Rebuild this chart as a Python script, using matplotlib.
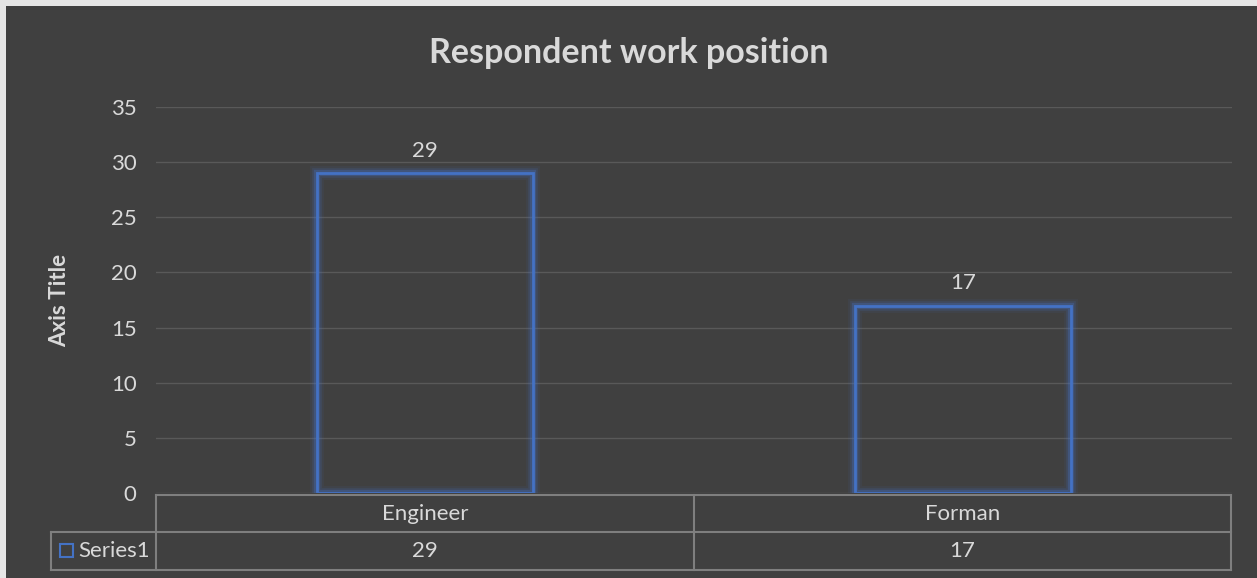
import matplotlib
matplotlib.use('Agg')
import matplotlib.pyplot as plt
from matplotlib.patches import Rectangle
from matplotlib.lines import Line2D

# data
categories = ['Engineer', 'Forman']
values = [29, 17]
series_name = 'Series1'
title = 'Respondent work position'
y_ticks = [0, 5, 10, 15, 20, 25, 30, 35]

W, H = 1257, 578
BG = '#404040'
TXT = '#d9d9d9'
GRID = '#595959'
BLUE = '#4472c4'
FS = 16

plt.rcParams['font.family'] = ['Lato', 'DejaVu Sans']

fig = plt.figure(figsize=(W / 100, H / 100), dpi=100)
fig.patch.set_facecolor('#e6e6e6')


def fx(px):
    return px / W


def fy(py):
    return 1 - py / H


# dark chart area
fig.patches.append(Rectangle((fx(6), 0), 1 - fx(6), fy(6), transform=fig.transFigure,
                             facecolor=BG, edgecolor='none', zorder=-5))

# plot area
left, right, top, bottom = 156, 1232, 107, 493
ax = fig.add_axes([fx(left), fy(bottom), fx(right) - fx(left), fy(top) - fy(bottom)])
ax.set_facecolor('none')
ax.set_ylim(0, 35)
ax.set_xlim(-0.5, len(categories) - 0.5)
ax.set_yticks(y_ticks)
ax.tick_params(axis='y', length=0, colors=TXT, labelsize=FS, pad=14)
ax.set_xticks([])
for s in ax.spines.values():
    s.set_visible(False)
ax.grid(axis='y', color=GRID, linewidth=1)
ax.set_axisbelow(True)

x = range(len(categories))
# glow around the bars
for lw, a in [(10, 0.08), (7, 0.15), (4.5, 0.3)]:
    ax.bar(x, values, width=0.4, facecolor='none', edgecolor=BLUE, linewidth=lw, alpha=a)
ax.bar(x, values, width=0.4, facecolor='none', edgecolor=BLUE, linewidth=2)

for xi, v in zip(x, values):
    ax.annotate(str(v), (xi, v), xytext=(0, 9), textcoords='offset points',
                ha='center', va='bottom', color=TXT, fontsize=FS)

ax.set_ylabel('Axis Title', color=TXT, fontsize=FS, fontweight='bold', labelpad=29)

fig.text(0.5, fy(53), title, ha='center', va='center', color=TXT,
         fontsize=24.5, fontweight='bold')

# data table under the axis
r0, r1, r2 = 495, 532, 570
cl, c0, c2 = 51, 156, 1231
ncat = len(categories)
col_w = (c2 - c0) / ncat
lc = '#7f7f7f'


def hline(y, x0, x1):
    fig.add_artist(Line2D([fx(x0), fx(x1)], [fy(y), fy(y)], color=lc, linewidth=1.5))


def vline(xp, y0, y1):
    fig.add_artist(Line2D([fx(xp), fx(xp)], [fy(y0), fy(y1)], color=lc, linewidth=1.5))


hline(r0, c0, c2)
hline(r1, cl, c2)
hline(r2, cl, c2)
vline(cl, r1, r2)
for i in range(ncat + 1):
    vline(c0 + i * col_w, r0, r2)

for i, (c, v) in enumerate(zip(categories, values)):
    cx = c0 + (i + 0.5) * col_w
    fig.text(fx(cx), fy((r0 + r1) / 2), c, ha='center', va='center', color=TXT, fontsize=FS)
    fig.text(fx(cx), fy((r1 + r2) / 2), str(v), ha='center', va='center', color=TXT, fontsize=FS)

fig.patches.append(Rectangle((fx(60), fy(557)), fx(13), fy(544) - fy(557), transform=fig.transFigure,
                             facecolor='none', edgecolor=BLUE, linewidth=1.5))
fig.text(fx(78), fy((r1 + r2) / 2), series_name, ha='left', va='center', color=TXT, fontsize=FS)

fig.savefig('out.png', dpi=100, facecolor=fig.get_facecolor())
